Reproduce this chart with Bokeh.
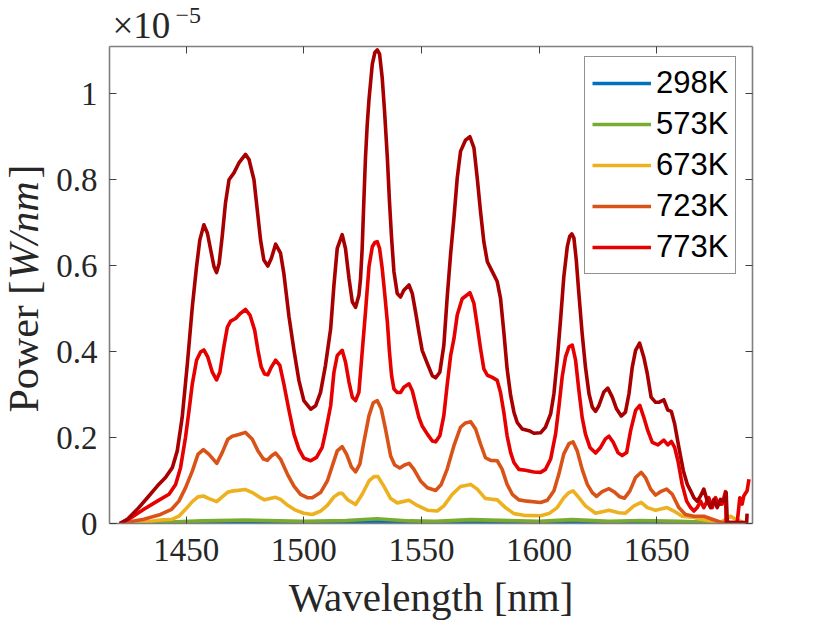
import numpy as np
from bokeh.core.properties import value
from bokeh.embed import file_html
from bokeh.models import FixedTicker, Label, Legend, LegendItem, LinearAxis, Range1d
from bokeh.plotting import figure
from bokeh.resources import INLINE

# All powers are in units of 1e-5 W/nm.
WL_298 = [1422, 1440, 1475, 1500, 1518, 1531, 1545, 1556, 1571, 1600, 1614, 1630, 1643, 1660, 1688]
P_298 = [0, 0.001, 0.002, 0.001, 0.002, 0.004, 0.002, 0.001, 0.003, 0.001, 0.003, 0.001, 0.002, 0.001, 0]

WL_573 = [1422, 1440, 1457, 1475, 1500, 1518, 1531, 1545, 1556, 1571, 1600, 1614, 1630, 1643, 1660, 1675, 1688]
P_573 = [0, 0.003, 0.006, 0.008, 0.005, 0.007, 0.011, 0.006, 0.005, 0.009, 0.005, 0.009, 0.005, 0.007, 0.005, 0.002, 0]

WL_673 = [1421.8, 1432, 1439.1, 1444.1, 1446.9, 1449.7, 1452.6, 1455, 1457.3, 1459.7, 1463, 1465.3, 1467.7, 1470.3,
          1475.2, 1478.1, 1480.9, 1483.3, 1485.6, 1488, 1490.1, 1493, 1496.5, 1500, 1503.6, 1507.1, 1510, 1512.8,
          1514.9, 1516.3, 1518.5, 1522, 1524.8, 1527.7, 1529.8, 1531.5, 1534, 1536.9, 1539.7, 1544.7, 1548.2, 1552.5,
          1556.7, 1559.5, 1563.1, 1566.6, 1570.9, 1573.7, 1577.2, 1582.2, 1585.7, 1589.3, 1593.5, 1600.6, 1604.2,
          1607.7, 1610.5, 1612.7, 1614.5, 1616.9, 1619.7, 1624, 1629.7, 1633.9, 1636.7, 1640.3, 1643.4, 1646, 1649.5,
          1654.4, 1657.3, 1660.8, 1665.8, 1671.4, 1677.1, 1681.4, 1683.5, 1687]
P_673 = [0, 0.003, 0.008, 0.010, 0.017, 0.033, 0.051, 0.062, 0.064, 0.058, 0.051, 0.062, 0.073, 0.076,
         0.079, 0.072, 0.062, 0.055, 0.058, 0.061, 0.056, 0.043, 0.031, 0.024, 0.021, 0.029, 0.042, 0.062,
         0.070, 0.070, 0.056, 0.044, 0.068, 0.099, 0.109, 0.109, 0.087, 0.058, 0.048, 0.054, 0.042, 0.031,
         0.029, 0.041, 0.068, 0.086, 0.091, 0.080, 0.058, 0.055, 0.037, 0.023, 0.019, 0.018, 0.023,
         0.037, 0.060, 0.072, 0.076, 0.060, 0.041, 0.024, 0.031, 0.025, 0.024, 0.041, 0.049, 0.037, 0.031,
         0.037, 0.029, 0.017, 0.014, 0.007, 0.002, 0.017, 0.010, 0.002]

WL_723 = [1421.8, 1432, 1439.1, 1443.8, 1446.9, 1449.7, 1452.6, 1455, 1457.3, 1459.7, 1463, 1465.3, 1467.7, 1469.6,
          1472.4, 1475.2, 1478.1, 1480.5, 1482.8, 1484.5, 1486.2, 1488, 1490.1, 1493, 1495.8, 1498.6, 1501.5, 1503.6,
          1507.1, 1510, 1512.1, 1514.2, 1516.3, 1518.2, 1520.2, 1522, 1523.8, 1525.5, 1527.7, 1529.5, 1531.2, 1532.9,
          1534.7, 1536.9, 1538.6, 1540.8, 1542.8, 1544.8, 1546.8, 1549.6, 1552.5, 1556, 1558.4, 1560.9, 1563.8, 1566.6,
          1568.7, 1570.9, 1573, 1575.1, 1577.2, 1579.4, 1582.2, 1584.3, 1586.4, 1588.6, 1591.4, 1594.9, 1600.6, 1603.5,
          1606.3, 1608.4, 1610.5, 1612.7, 1614.4, 1616.2, 1618.3, 1620.5, 1622.6, 1624.4, 1626.8, 1629.7, 1631.8, 1634.3,
          1636.3, 1638.6, 1641, 1643.4, 1645.2, 1647.4, 1649.5, 1651.6, 1654.2, 1656.6, 1659.4, 1662.2, 1665.8, 1670,
          1673.6, 1677.8, 1681.4]
P_723 = [0, 0.010, 0.021, 0.033, 0.052, 0.083, 0.122, 0.161, 0.172, 0.161, 0.140, 0.165, 0.196, 0.203,
         0.207, 0.212, 0.196, 0.169, 0.150, 0.147, 0.157, 0.164, 0.150, 0.115, 0.087, 0.068, 0.060, 0.060,
         0.072, 0.099, 0.134, 0.169, 0.179, 0.161, 0.132, 0.120, 0.138, 0.189, 0.251, 0.281, 0.286, 0.267,
         0.220, 0.157, 0.136, 0.129, 0.136, 0.140, 0.126, 0.099, 0.083, 0.077, 0.091, 0.126, 0.181, 0.224,
         0.234, 0.237, 0.220, 0.185, 0.153, 0.147, 0.146, 0.126, 0.091, 0.068, 0.055, 0.052, 0.049, 0.054,
         0.076, 0.115, 0.162, 0.186, 0.190, 0.169, 0.126, 0.091, 0.072, 0.063, 0.074, 0.081, 0.074, 0.062,
         0.059, 0.076, 0.107, 0.119, 0.107, 0.080, 0.066, 0.074, 0.080, 0.068, 0.037, 0.021, 0.017, 0.017,
         0.010, 0.002, 0.002]

WL_773 = [1421.8, 1426.4, 1432, 1437.7, 1442.7, 1445.5, 1447.6, 1449.7, 1451.2, 1452.6, 1454.4, 1456.1, 1457.5, 1459.2,
          1461.1, 1462.9, 1464.3, 1466, 1467.5, 1468.9, 1471, 1473.1, 1475.2, 1477.1, 1479.1, 1480.5, 1481.9, 1483.3,
          1484.7, 1486.2, 1488, 1489.8, 1491.5, 1493.7, 1495.8, 1497.9, 1500, 1502.9, 1505.4, 1507.8, 1509.2, 1511.4,
          1512.8, 1514.2, 1516.3, 1517.7, 1519.2, 1520.6, 1522, 1523.4, 1524.8, 1526.2, 1527.7, 1529.1, 1530.2, 1531.2,
          1532.2, 1533.3, 1534.3, 1535.5, 1536.4, 1537.3, 1538.3, 1539.7, 1541.1, 1542.5, 1544.7, 1546.1, 1547.5, 1548.9,
          1550.3, 1552.5, 1554.6,
          1556, 1557.8, 1559.5, 1560.9, 1562.4, 1563.8, 1565.2, 1567.3, 1570.6, 1572.3, 1573.7, 1575.1, 1576.5, 1578,
          1580.1, 1582.2, 1583.6, 1585, 1586.4, 1587.9, 1589.3, 1591.4, 1594.2, 1597.8, 1600.6, 1602.7, 1604.9, 1607,
          1608.4, 1609.8, 1611.2, 1612.7, 1614.1, 1615.5, 1616.9, 1618.3, 1619.7, 1621.6, 1624, 1626.1, 1628.2, 1629.7,
          1631.5, 1633.5, 1635.3, 1637.2, 1638.9, 1641, 1642.8, 1644.5, 1646.2, 1648.1, 1650.5, 1653, 1654.7, 1656.2,
          1657.6, 1659, 1660.8, 1662.7, 1664.4, 1665.8, 1667.2, 1668.6, 1670, 1672.1, 1673.6, 1675, 1676.4, 1677.8,
          1679.2, 1679.5, 1684.2, 1685.3, 1686.3, 1687, 1688.4, 1689.2]
P_773 = [0, 0.013, 0.033, 0.052, 0.068, 0.091, 0.130, 0.200, 0.263, 0.325, 0.380, 0.399, 0.404, 0.387,
         0.352, 0.334, 0.352, 0.411, 0.457, 0.471, 0.477, 0.489, 0.498, 0.485, 0.450, 0.403, 0.364, 0.348,
         0.346, 0.364, 0.380, 0.368, 0.325, 0.263, 0.208, 0.173, 0.152, 0.146, 0.154, 0.177, 0.212, 0.274,
         0.352, 0.391, 0.403, 0.376, 0.329, 0.294, 0.286, 0.305, 0.399, 0.492, 0.598, 0.644, 0.654, 0.656,
         0.640, 0.594, 0.539, 0.469, 0.399, 0.344, 0.313, 0.305, 0.305, 0.317, 0.325, 0.309, 0.278, 0.247,
         0.227, 0.208, 0.192,
         0.190, 0.204, 0.251, 0.321, 0.391, 0.430, 0.485, 0.523, 0.537, 0.512, 0.461, 0.407, 0.360, 0.345,
         0.340, 0.333, 0.305, 0.259, 0.204, 0.165, 0.142, 0.126, 0.124, 0.120, 0.119, 0.126, 0.150, 0.208,
         0.271, 0.341, 0.387, 0.411, 0.415, 0.380, 0.310, 0.247, 0.208, 0.177, 0.164, 0.177, 0.197, 0.203,
         0.189, 0.165, 0.158, 0.165, 0.216, 0.263, 0.275, 0.247, 0.216, 0.189, 0.183, 0.194, 0.183, 0.191,
         0.177, 0.146, 0.091, 0.052, 0.037, 0.029, 0.037, 0.052, 0.037, 0.060, 0.037, 0.060, 0.045, 0.045,
         0.074, 0.002, 0.002, 0.060, 0.045, 0.064, 0.076, 0.103]

# Sixth, hottest curve has no legend entry in the original.
WL_TOP = [1421.8, 1425, 1429.2, 1433.5, 1437.7, 1441.2, 1444.1, 1446.2, 1448.3, 1450.5, 1452.6, 1454.4, 1455.8, 1457.5,
          1459, 1460.4, 1461.8, 1462.9, 1464, 1465.3, 1466.7, 1468.2, 1470.3, 1472.4, 1475.2, 1476.7, 1478.8, 1480.2,
          1481.6, 1483, 1484.7, 1486.2, 1488, 1490.1, 1491.5, 1493.7, 1495.8, 1497.9, 1500, 1502.9, 1505, 1507.1,
          1509.2, 1511.4, 1512.8, 1514.2, 1516.3, 1517.7, 1519.2, 1520.6, 1522, 1523.4, 1524.1, 1524.8, 1525.5, 1526.2,
          1526.95, 1527.7, 1529.1, 1530.2, 1531.2, 1532.2, 1533.3, 1534.3, 1535.5, 1536.4, 1537.3, 1538.3, 1539.7, 1541.1,
          1542.5, 1544.7, 1546.1, 1547.5, 1548.9, 1550.3,
          1552.5, 1554.6, 1556, 1557.8, 1559.5, 1560.9, 1562.4, 1563.8, 1565.2, 1566.6, 1568.7, 1570.6, 1572.3, 1573.7,
          1575.1, 1576.5, 1578, 1580.1, 1582.2, 1583.6, 1585, 1586.4, 1587.9, 1589.3, 1590.7, 1592.8, 1595.7, 1597.8,
          1600.6, 1602.7, 1604.9, 1606.3, 1607.7, 1609.1, 1610.5, 1612, 1613, 1613.9, 1614.8, 1615.8, 1616.9, 1618.3,
          1619.7, 1621.2,
          1622.6, 1624, 1625.4, 1627.5, 1629.2, 1631.1, 1632.9, 1634.9, 1636.7, 1638.2, 1639.6, 1641, 1642.7, 1644.5,
          1646, 1647.6, 1649.5, 1650.9, 1653, 1654.7, 1656.2, 1657.6, 1659.4, 1661.3, 1663, 1664.4, 1665.8, 1667.2,
          1668.6, 1670, 1671.5, 1672.9, 1674.3, 1675.7, 1677.1, 1678.5, 1679.5, 1680, 1688.2, 1688.4]
P_TOP = [0, 0.010, 0.033, 0.060, 0.087, 0.107, 0.130, 0.169, 0.247, 0.372, 0.504, 0.598, 0.660, 0.695,
         0.676, 0.637, 0.598, 0.584, 0.605, 0.668, 0.746, 0.800, 0.816, 0.839, 0.859, 0.847, 0.800, 0.730,
         0.660, 0.613, 0.599, 0.617, 0.650, 0.629, 0.582, 0.481, 0.403, 0.333, 0.286, 0.266, 0.274, 0.305,
         0.368, 0.453, 0.555, 0.640, 0.672, 0.640, 0.570, 0.516, 0.503, 0.531, 0.570, 0.640, 0.749, 0.851,
         0.929, 0.987, 1.069, 1.096, 1.102, 1.092, 1.038, 0.960, 0.851, 0.749, 0.664, 0.586, 0.535, 0.527,
         0.543, 0.555, 0.535, 0.492, 0.446, 0.403,
         0.372, 0.344, 0.339, 0.352, 0.414, 0.524, 0.628, 0.711, 0.804, 0.866, 0.892, 0.900, 0.874, 0.804,
         0.726, 0.656, 0.609, 0.586, 0.563, 0.524, 0.446, 0.360, 0.298, 0.259, 0.235, 0.220, 0.216, 0.210,
         0.211, 0.224, 0.255, 0.302, 0.380, 0.473, 0.574, 0.645, 0.668, 0.674, 0.664, 0.613, 0.535, 0.442,
         0.364, 0.302,
         0.271, 0.261, 0.274, 0.306, 0.315, 0.294, 0.267, 0.250, 0.259, 0.302, 0.364, 0.403, 0.420, 0.387,
         0.348, 0.294, 0.282, 0.282, 0.288, 0.264, 0.261, 0.232, 0.177, 0.123, 0.091, 0.076, 0.060, 0.052,
         0.064, 0.080, 0.052, 0.037, 0.056, 0.037, 0.056, 0.052, 0.072, 0.002, 0.002, 0.023]

SERIES_LABELS = ["298K", "573K", "673K", "723K", "773K"]
COLORS = ["#0072BD", "#77AC30", "#EDB120", "#D95319", "#E60000", "#A80000"]
X_TICKS = [1450, 1500, 1550, 1600, 1650]
Y_TICKS = [0, 0.2, 0.4, 0.6, 0.8, 1]
Y_TICK_LABELS = {0: "0", 0.2: "0.2", 0.4: "0.4", 0.6: "0.6", 0.8: "0.8", 1: "1"}

SERIF = "Liberation Serif"
TEXT = "#262626"
AXIS = "#7f7f7f"

# The side-panel labels below make the borders wider than the picture has room for,
# so the canvas is pulled up and left by that much.
SHIFT_X = 85
SHIFT_Y = 10

p = figure(
    width=810 + SHIFT_X, height=623 + SHIFT_Y, output_backend="svg", toolbar_location=None,
    x_range=Range1d(1417.4, 1690.7), y_range=Range1d(0, 1.11),
    min_border_left=109, min_border_right=58, min_border_top=47, min_border_bottom=100,
    x_axis_label="Wavelength [nm]", margin=(-SHIFT_Y, 0, 0, -SHIFT_X),
)
p.grid.visible = False
p.outline_line_color = None
p.background_fill_color = "white"

renderers = []
for wl, power, color in zip(
    [WL_298, WL_573, WL_673, WL_723, WL_773, WL_TOP],
    [P_298, P_573, P_673, P_723, P_773, P_TOP],
    COLORS,
):
    renderers.append(p.line(wl, power, line_color=color, line_width=3.6, line_join="round"))

p.add_layout(LinearAxis(), "above")
p.add_layout(LinearAxis(), "right")
for ax in p.axis:
    ax.axis_line_color = AXIS
    ax.axis_line_width = 1.6
    ax.major_tick_line_color = "#404040"
    ax.major_tick_line_width = 1
    ax.major_tick_in = 7
    ax.major_tick_out = 0
    ax.minor_tick_line_color = None
for ax in p.xaxis:
    ax.ticker = FixedTicker(ticks=X_TICKS)
for ax in p.yaxis:
    ax.ticker = FixedTicker(ticks=Y_TICKS)
for ax in p.above + p.right:
    ax.major_label_text_font_size = "0px"
    ax.major_label_text_color = None

p.below[0].major_label_text_font = SERIF
p.below[0].major_label_text_font_size = "33px"
p.below[0].major_label_text_color = TEXT
p.below[0].major_label_standoff = 15
p.below[0].axis_label_text_font = SERIF
p.below[0].axis_label_text_font_size = "41px"
p.below[0].axis_label_text_font_style = "normal"
p.below[0].axis_label_text_color = TEXT
p.below[0].axis_label_standoff = 10

p.left[0].major_label_overrides = Y_TICK_LABELS
p.left[0].major_label_text_font = SERIF
p.left[0].major_label_text_font_size = "33px"
p.left[0].major_label_text_color = TEXT
p.left[0].major_label_standoff = 12

legend = Legend(
    items=[LegendItem(label=value(lbl), renderers=[r]) for lbl, r in zip(SERIES_LABELS, renderers)],
    location=(475, 249), orientation="vertical", margin=0, padding=7, spacing=3,
    label_text_font="Liberation Sans", label_text_font_size="31px", label_text_color="black",
    label_standoff=5, label_height=38, glyph_height=38, glyph_width=59,
    border_line_color=TEXT, border_line_width=1, background_fill_color="white", background_fill_alpha=1,
)
p.add_layout(legend, "center")

# Pieces of text an axis label cannot mix: italic units and the exponent.
# They sit in side panels because labels inside the frame get clipped to it.
for text, x, y, size in [("\u00d710", 112, 25, "37px"), ("\u22125", 175, 15, "24px")]:
    p.add_layout(Label(x=x + SHIFT_X, y=y + SHIFT_Y, x_units="canvas", y_units="canvas", text=text, text_font=SERIF,
                       text_font_size=size, text_color=TEXT,
                       text_align="left", text_baseline="alphabetic"), "above")
for text, y, style in [("Power [", 412, "normal"), ("W/nm", 279, "italic"), ("]", 178, "normal")]:
    p.add_layout(Label(x=23 + SHIFT_X, y=y + SHIFT_Y, x_units="canvas", y_units="canvas", text=text, text_font=SERIF,
                       text_font_size="42px", text_font_style=style, text_color=TEXT, angle=np.pi / 2,
                       text_align="left", text_baseline="alphabetic"), "left")

open("out.html", "w").write(file_html(p, INLINE))
